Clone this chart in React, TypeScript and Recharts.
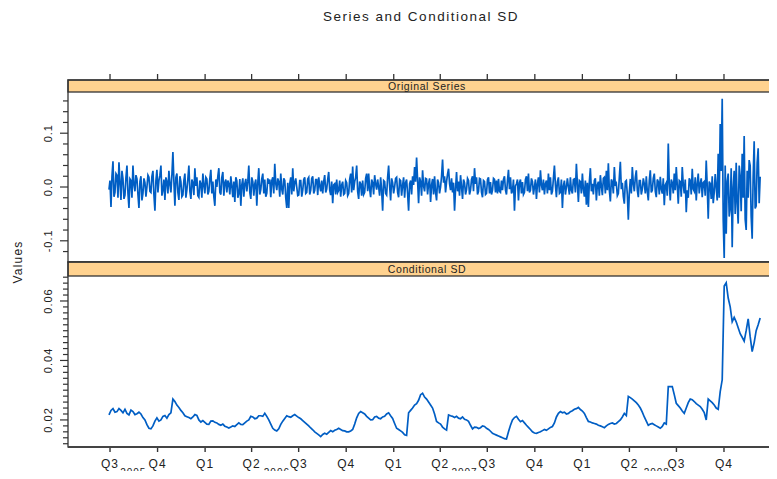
import React from "react";
import { LineChart, Line, XAxis, YAxis } from "recharts";

// ---- data ---------------------------------------------------------------

// Observation window of the series (first and last trading day shown)
const SERIES_START = "2005-06-29";
const SERIES_END = "2008-12-10";

// Original series (returns), sampled evenly over the window, in units of 0.001
const originalSeries = [
  -5, 12, -37, 20, 48, -18, -10, 25, 22, -20, 46, 8, -24, 30, 15, -22, -15, 18, 40, -12,
  -39, 15, 12, -20, 40, 5, -8, 22, 15, -14, -39, 10, 20, -25, -12, 16, 8, -18, 0, 22,
  18, -8, -10, 20, 30, -15, -44, 12, 32, -10, 12, 22, 40, -16, -6, 14, -24, 18, 10, -12,
  30, 5, -10, 22, 65, 10, -35, 18, 25, -10, -24, 20, 10, -18, -15, 12, 25, -20, -5, 15,
  40, -8, -22, 14, 8, -15, 35, 2, 18, -16, -19, 12, 6, -20, 25, 4, -12, 18, 15, -14,
  -8, 16, 32, -12, 10, -18, -35, 14, 0, 20, 35, -10, -14, 18, 28, -16, 8, 14, -10, 12,
  6, -14, 20, 2, -19, 10, -28, 18, 12, -20, -12, 15, -35, 4, 16, -18, 6, 15, -8, 10,
  40, -10, -22, 18, 10, -16, 6, 14, -35, 8, 35, -14, -5, 15, 25, -12, 14, -18, -12, 16,
  6, 14, -19, 12, 18, -12, 43, 6, -6, 16, 10, -18, 25, -4, -14, 16, 12, -20, -39, 8,
  -39, 6, 18, -14, 35, -8, 8, 16, 0, -16, -15, 12, 12, -18, -6, 14, 18, -12, -10, 15,
  18, -14, -6, 16, 20, -12, -6, 14, 14, -15, 18, 2, -8, 12, -12, 10, 22, -10, -4, 14,
  28, -6, -15, 10, -30, 4, 6, -14, 14, -10, -6, 12, -18, 4, 10, -14, -12, 12, 8, -16,
  -12, 14, 25, -10, 38, -6, 10, 18, 40, -8, -22, 10, 6, -16, 12, -14, -10, 16, 25, -8,
  25, -4, -19, 14, 8, -14, 22, 6, -5, 14, 0, -16, 18, -6, -44, 12, 10, -12, -15, 18,
  40, 2, -25, 16, 8, -12, 0, 16, 18, -10, -19, 14, 12, -16, 3, 18, -20, 8, 14, -12,
  -44, 6, 12, -14, 20, 4, 37, 10, 55, 12, -30, 18, 10, -16, 31, 2, -8, 16, 15, -14,
  6, 16, -28, 4, 15, -14, 20, -10, -25, 14, 8, -12, 0, 20, 51, 8, 20, -10, 10, 24,
  34, 6, -6, 16, -10, 8, -44, -4, 28, -8, 10, -16, 22, 0, -22, 14, 8, -14, -5, 16,
  12, -14, -6, 14, 20, -8, 35, 6, 18, -14, -8, 16, 15, -10, -19, 12, 10, -14, -12, 14,
  18, -12, 9, -14, -6, 16, 14, -10, 12, -12, 15, -8, -10, 12, -6, 14, 20, -6, -14, 12,
  32, -4, 18, -12, -8, 14, -44, 2, 6, 14, -25, 8, 14, -12, 9, -14, -10, 14, 20, -8,
  25, -10, -6, 16, 10, -14, 0, 14, -22, 6, 18, -10, 31, 4, -6, 14, -14, 6, 12, -12,
  25, -6, 18, -14, -8, 16, 40, 4, -19, 10, 18, -12, -10, 14, -39, 2, 12, -14, 0, 16,
  0, -14, 18, -6, -12, 14, 15, -10, 43, 6, -28, 12, 10, -12, 25, -4, -18, 12, -33, 8,
  -37, 10, 35, -8, 6, -14, 12, 16, -25, 4, 10, -16, 22, 2, -15, 16, 18, -12, 30, -6,
  44, -6, -27, 14, 10, -12, 37, 2, 6, -16, -12, 18, 47, -4, 8, -18, -31, 10, 12, -14,
  -61, -10, 15, -12, 37, 6, -8, 18, 31, -6, -19, 12, 12, -14, -4, 16, 6, -12, 20, -8,
  -25, 12, 31, -10, -6, 16, 25, -8, -19, 14, 10, -14, 19, -4, -12, 16, -34, 4, 8, -16,
  81, 6, -25, 14, 8, -12, 25, -6, 37, 4, -31, 12, 10, -18, 37, 4, -12, 14, -47, -6,
  -20, 16, 12, -14, 34, -4, -8, 18, -25, 6, 25, -12, 6, 16, -19, 8, 10, -16, 49, 2,
  -59, 10, 6, -22, 20, -30, -10, 24, 0, -25, 62, -20, 117, 30, 164, -60, -132, 40, -87, 10,
  25, -55, -40, 35, -112, 0, 30, -50, 45, -30, -68, 40, 20, -45, 62, -20, 95, -60, -80, 30,
  -20, 50, 40, -55, -96, 20, 85, -40, -35, 45, 72, -30, 19,
];

// Conditional standard deviation, sampled evenly over the window, in units of 0.0001
const conditionalSD = [
  217, 232, 238, 226, 228, 238, 232, 224, 236, 222, 217, 233, 228, 218, 221, 226, 220, 208, 200, 184,
  172, 170, 180, 196, 207, 196, 200, 212, 215, 206, 218, 224, 270, 262, 250, 242, 232, 224, 214, 211,
  208, 204, 210, 218, 215, 200, 193, 198, 192, 186, 185, 196, 197, 192, 190, 185, 182, 186, 179, 176,
  173, 176, 180, 178, 184, 190, 185, 184, 190, 196, 200, 212, 210, 204, 206, 214, 214, 212, 222, 212,
  200, 186, 172, 166, 163, 170, 185, 196, 205, 214, 211, 209, 214, 218, 213, 208, 204, 198, 192, 186,
  180, 173, 167, 160, 155, 150, 144, 151, 155, 152, 158, 164, 160, 165, 168, 172, 168, 164, 163, 160,
  160, 163, 168, 186, 207, 222, 228, 224, 220, 212, 206, 200, 201, 210, 212, 206, 204, 210, 212, 220,
  224, 214, 205, 188, 172, 168, 163, 158, 150, 148, 224, 232, 240, 250, 255, 266, 285, 290, 277, 270,
  260, 250, 240, 220, 195, 190, 186, 176, 170, 166, 217, 214, 212, 208, 212, 206, 204, 210, 202, 200,
  195, 182, 170, 176, 175, 171, 174, 180, 178, 172, 168, 162, 155, 152, 149, 146, 143, 140, 137, 136,
  160, 182, 200, 208, 212, 202, 194, 198, 190, 182, 175, 168, 160, 156, 155, 158, 160, 164, 168, 165,
  170, 175, 178, 190, 210, 222, 228, 224, 226, 220, 222, 228, 231, 236, 238, 242, 235, 230, 222, 208,
  195, 193, 190, 188, 186, 182, 180, 177, 174, 180, 185, 188, 190, 186, 188, 194, 200, 210, 222, 215,
  279, 275, 270, 264, 258, 250, 240, 226, 210, 196, 182, 186, 188, 184, 180, 176, 172, 178, 190, 186,
  312, 312, 312, 285, 256, 248, 240, 230, 222, 240, 258, 270, 268, 262, 255, 250, 245, 236, 225, 200,
  270, 264, 258, 250, 240, 236, 295, 335, 650, 661, 610, 580, 530, 545, 530, 510, 490, 478, 465, 500,
  540, 480, 430, 460, 500, 520, 543,
];

// Time axis: quarter starts and their labels
const quarterStarts = [
  "2005-07-01", "2005-10-01", "2006-01-01", "2006-04-01", "2006-07-01",
  "2006-10-01", "2007-01-01", "2007-04-01", "2007-07-01", "2007-10-01",
  "2008-01-01", "2008-04-01", "2008-07-01", "2008-10-01",
];
const quarterLabels = [
  "Q3", "Q4", "Q1", "Q2", "Q3", "Q4", "Q1", "Q2", "Q3", "Q4", "Q1", "Q2", "Q3", "Q4",
];
// Year captions under the quarter row
const yearLabelDates = ["2005-08-15", "2006-05-20", "2007-05-18", "2008-05-24"];
const yearLabels = ["2005", "2006", "2007", "2008"];

// Value-axis labels of the two panels
const seriesAxisValues = [-0.1, 0.0, 0.1];
const seriesAxisLabels = ["-0.1", "0.0", "0.1"];
const sdAxisValues = [0.02, 0.04, 0.06];
const sdAxisLabels = ["0.02", "0.04", "0.06"];

// ---- helpers ------------------------------------------------------------

const ORIGIN = Date.parse("2005-07-01");
const DAY_MS = 86400000;
const dayOf = (s: string) => (Date.parse(s) - ORIGIN) / DAY_MS;

const START_DAY = dayOf(SERIES_START);
const END_DAY = dayOf(SERIES_END);

const toRows = (values: number[], scale: number) =>
  values.map((v, i) => ({
    t: START_DAY + ((END_DAY - START_DAY) * i) / (values.length - 1),
    v: v * scale,
  }));

const seriesRows = toRows(originalSeries, 0.001);
const sdRows = toRows(conditionalSD, 0.0001);

const quarterTicks = quarterStarts.map(dayOf);
const yearTicks = yearLabelDates.map(dayOf);

const X_DOMAIN: [number, number] = [-81.3, 1308];
const SERIES_DOMAIN: [number, number] = [-0.1394, 0.1766];
const SD_DOMAIN: [number, number] = [0.0109, 0.0684];

// minor tick grid for the value axes
const stepTicks = (from: number, to: number, step: number) => {
  const out: number[] = [];
  const n = Math.round((to - from) / step);
  for (let i = 0; i <= n; i++) out.push(+(from + i * step).toFixed(6));
  return out;
};
const seriesTicks = stepTicks(-0.12, 0.16, 0.02);
const sdTicks = stepTicks(0.012, 0.068, 0.002);

// ---- styling ------------------------------------------------------------

const FONT = "Arial, 'Liberation Sans', Helvetica, sans-serif";
const LINE_BLUE = "#005EC4";
const STRIP_FILL = "#FFD28F";
const INK = "#222";
const FRAME = "#333";

const PLOT_LEFT = 68;
const PLOT_RIGHT = 786;
const TOP_STRIP_Y = 80;
const TOP_PANEL_Y = 92;
const BOTTOM_STRIP_Y = 262;
const BOTTOM_PANEL_Y = 276;
const BOTTOM_EDGE = 447;

function makeValueTick(values: number[], labels: string[]) {
  return (props: any) => {
    const { x, y, payload } = props;
    const idx = values.findIndex((v) => Math.abs(v - payload.value) < 1e-9);
    const major = idx >= 0;
    const len = major ? 8 : 5;
    return (
      <g>
        <line x1={x - len} x2={x} y1={y} y2={y} stroke={FRAME} strokeWidth={1.2} />
        {major && (
          <text
            transform={`translate(${x - 20},${y}) rotate(-90)`}
            textAnchor="middle"
            dominantBaseline="central"
            fontSize={11}
            letterSpacing={1}
            fill={INK}
            fontFamily={FONT}
          >
            {labels[idx]}
          </text>
        )}
      </g>
    );
  };
}

const SeriesTick = makeValueTick(seriesAxisValues, seriesAxisLabels);
const SdTick = makeValueTick(sdAxisValues, sdAxisLabels);

// short tick marks above the upper strip
const TopTick = (props: any) => {
  const { x } = props;
  return (
    <line
      x1={x}
      x2={x}
      y1={TOP_STRIP_Y - 6}
      y2={TOP_STRIP_Y}
      stroke={FRAME}
      strokeWidth={1.3}
    />
  );
};

const QuarterTick = (props: any) => {
  const { x, payload } = props;
  const idx = quarterTicks.findIndex((q) => Math.abs(q - payload.value) < 1e-6);
  return (
    <text
      x={x}
      y={BOTTOM_EDGE + 21}
      textAnchor="middle"
      fontSize={12}
      letterSpacing={1}
      fill={INK}
      fontFamily={FONT}
    >
      {idx >= 0 ? quarterLabels[idx] : ""}
    </text>
  );
};

const YearTick = (props: any) => {
  const { x, payload } = props;
  const idx = yearTicks.findIndex((q) => Math.abs(q - payload.value) < 1e-6);
  return (
    <text
      x={x}
      y={BOTTOM_EDGE + 29}
      textAnchor="middle"
      fontSize={10}
      letterSpacing={1}
      fill={INK}
      fontFamily={FONT}
    >
      {idx >= 0 ? yearLabels[idx] : ""}
    </text>
  );
};

// ---- chart --------------------------------------------------------------

export default function App() {
  const panelWidth = PLOT_RIGHT - PLOT_LEFT;
  return (
    <div
      style={{
        position: "relative",
        width: 777,
        height: 479,
        margin: -8,
        overflow: "hidden",
        background: "#fff",
        fontFamily: FONT,
      }}
    >
      {/* upper panel: original series */}
      <div style={{ position: "absolute", left: 0, top: 0 }}>
        <LineChart
          width={800}
          height={BOTTOM_STRIP_Y}
          data={seriesRows}
          margin={{ top: 75, right: 800 - PLOT_RIGHT, bottom: 0, left: PLOT_LEFT - 40 }}
        >
          <XAxis
            dataKey="t"
            type="number"
            orientation="top"
            domain={X_DOMAIN}
            allowDataOverflow
            ticks={quarterTicks}
            interval={0}
            height={TOP_PANEL_Y - 75}
            tickSize={0}
            tickMargin={0}
            tick={TopTick}
            axisLine={false}
            tickLine={false}
          />
          <YAxis
            type="number"
            domain={SERIES_DOMAIN}
            allowDataOverflow
            ticks={seriesTicks}
            interval={0}
            width={40}
            axisLine={false}
            tickLine={false}
            tickSize={0}
            tickMargin={0}
            tick={SeriesTick}
          />
          <Line
            type="linear"
            dataKey="v"
            stroke={LINE_BLUE}
            strokeWidth={1.7}
            dot={false}
            isAnimationActive={false}
          />
        </LineChart>
      </div>

      {/* lower panel: conditional SD */}
      <div style={{ position: "absolute", left: 0, top: 0 }}>
        <LineChart
          width={800}
          height={BOTTOM_EDGE + 22 + 10}
          data={sdRows}
          margin={{ top: BOTTOM_PANEL_Y, right: 800 - PLOT_RIGHT, bottom: 0, left: PLOT_LEFT - 40 }}
        >
          <XAxis
            xAxisId="q"
            dataKey="t"
            type="number"
            domain={X_DOMAIN}
            allowDataOverflow
            ticks={quarterTicks}
            interval={0}
            height={22}
            tickSize={5}
            tickMargin={4}
            axisLine={false}
            tickLine={{ stroke: FRAME, strokeWidth: 1.4 }}
            tick={QuarterTick}
          />
          <XAxis
            xAxisId="yr"
            dataKey="t"
            type="number"
            domain={X_DOMAIN}
            allowDataOverflow
            ticks={yearTicks}
            interval={0}
            height={10}
            tickSize={0}
            tickMargin={0}
            axisLine={false}
            tickLine={false}
            tick={YearTick}
          />
          <YAxis
            type="number"
            domain={SD_DOMAIN}
            allowDataOverflow
            ticks={sdTicks}
            interval={0}
            width={40}
            axisLine={false}
            tickLine={false}
            tickSize={0}
            tickMargin={0}
            tick={SdTick}
          />
          <Line
            xAxisId="q"
            type="linear"
            dataKey="v"
            stroke={LINE_BLUE}
            strokeWidth={1.7}
            dot={false}
            isAnimationActive={false}
          />
        </LineChart>
      </div>

      {/* titles, strips and panel frames */}
      <svg
        width={777}
        height={479}
        style={{ position: "absolute", left: 0, top: 0, pointerEvents: "none" }}
        fontFamily={FONT}
      >
        <text x={421} y={21} textAnchor="middle" fontSize={13.5} letterSpacing={1.5} fill={INK}>
          Series and Conditional SD
        </text>
        <text
          transform="translate(18,262) rotate(-90)"
          textAnchor="middle"
          dominantBaseline="central"
          fontSize={12}
          letterSpacing={1.2}
          fill={INK}
        >
          Values
        </text>

        <rect
          x={PLOT_LEFT}
          y={TOP_STRIP_Y}
          width={panelWidth}
          height={TOP_PANEL_Y - TOP_STRIP_Y}
          fill={STRIP_FILL}
          stroke={FRAME}
          strokeWidth={1.3}
        />
        <text
          x={427}
          y={(TOP_STRIP_Y + TOP_PANEL_Y) / 2}
          textAnchor="middle"
          dominantBaseline="central"
          fontSize={10.5}
          letterSpacing={0.6}
          fill={INK}
        >
          Original Series
        </text>
        <rect
          x={PLOT_LEFT}
          y={TOP_STRIP_Y}
          width={panelWidth}
          height={BOTTOM_STRIP_Y - TOP_STRIP_Y}
          fill="none"
          stroke={FRAME}
          strokeWidth={1.3}
        />

        <rect
          x={PLOT_LEFT}
          y={BOTTOM_STRIP_Y}
          width={panelWidth}
          height={BOTTOM_PANEL_Y - BOTTOM_STRIP_Y}
          fill={STRIP_FILL}
          stroke={FRAME}
          strokeWidth={1.3}
        />
        <text
          x={427}
          y={(BOTTOM_STRIP_Y + BOTTOM_PANEL_Y) / 2}
          textAnchor="middle"
          dominantBaseline="central"
          fontSize={10.5}
          letterSpacing={0.6}
          fill={INK}
        >
          Conditional SD
        </text>
        <rect
          x={PLOT_LEFT}
          y={BOTTOM_STRIP_Y}
          width={panelWidth}
          height={BOTTOM_EDGE - BOTTOM_STRIP_Y}
          fill="none"
          stroke={FRAME}
          strokeWidth={1.3}
        />
        <line
          x1={PLOT_LEFT}
          x2={PLOT_RIGHT}
          y1={BOTTOM_EDGE}
          y2={BOTTOM_EDGE}
          stroke="#444"
          strokeWidth={1.8}
        />
      </svg>
    </div>
  );
}
